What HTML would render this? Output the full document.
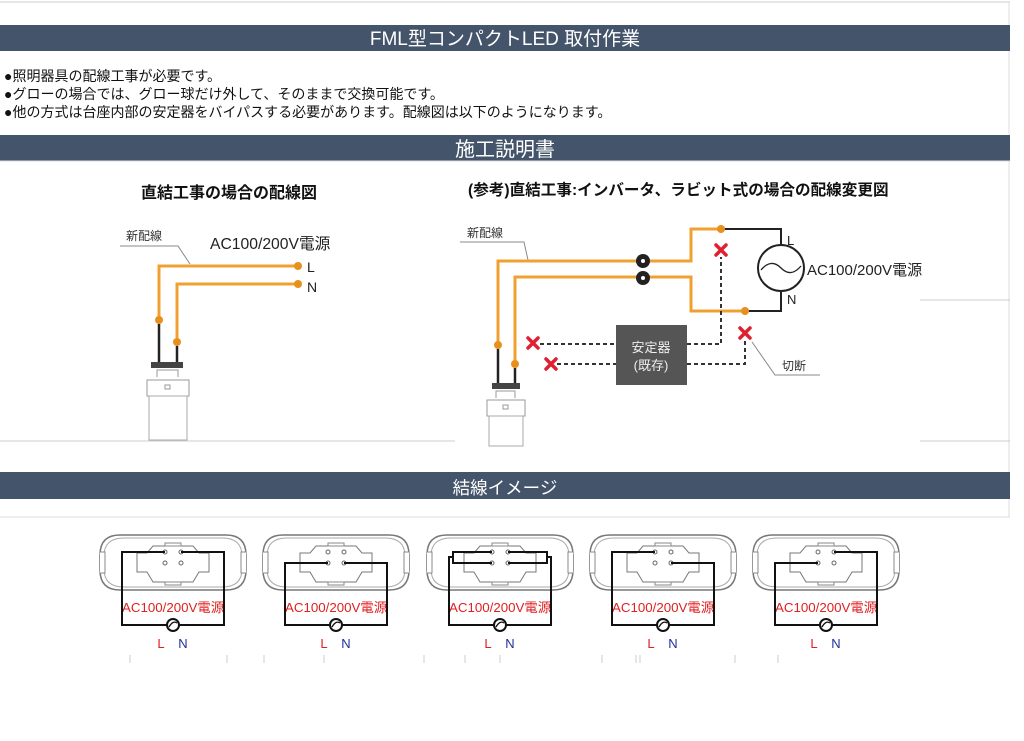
<!DOCTYPE html>
<html><head><meta charset="utf-8">
<style>
body{margin:0;background:#fff;}
svg{display:block;font-family:"Liberation Sans","Noto Sans CJK JP",sans-serif;}
</style></head><body>
<svg width="1024" height="741" viewBox="0 0 1024 741" xmlns="http://www.w3.org/2000/svg">
<defs>
<g id="fx">
  <path d="M-53,535 L53,535 Q73,535 73,555 L73,570 Q73,590 53,590 L-53,590 Q-73,590 -73,570 L-73,555 Q-73,535 -53,535 Z" fill="#fff" stroke="#777" stroke-width="1.5"/>
  <path d="M-49,538 L49,538 Q69,538 69,556 L69,569 Q69,587 49,587 L-49,587 Q-69,587 -69,569 L-69,556 Q-69,538 -49,538 Z" fill="none" stroke="#aaa" stroke-width="1"/>
  <path d="M-73,552 L-68,552 L-68,573 L-73,573 M73,552 L68,552 L68,573 L73,573" fill="#fff" stroke="#888"/>
  <path d="M-20,546 L20,546 L26,553 L36,553 L36,572 L26,572 L20,582 L-20,582 L-26,572 L-36,572 L-36,553 L-26,553 Z" fill="#fff" stroke="#777"/>
  <rect x="-8" y="543" width="16" height="3" fill="#fff" stroke="#888"/>
  <rect x="-8" y="582" width="16" height="3" fill="#fff" stroke="#888"/>
  <circle cx="-8" cy="552" r="2" fill="#fff" stroke="#666"/><circle cx="8" cy="552" r="2" fill="#fff" stroke="#666"/>
  <circle cx="-8" cy="563" r="2" fill="#fff" stroke="#666"/><circle cx="8" cy="563" r="2" fill="#fff" stroke="#666"/>
  <text x="0" y="612" font-size="13.3" fill="#e02020" text-anchor="middle">AC100/200V電源</text>
  <circle cx="0" cy="625" r="6" fill="#fff" stroke="#111" stroke-width="2"/>
  <path d="M-4,627 Q0,620 4,623" fill="none" stroke="#111" stroke-width="1.3"/>
  <text x="-12" y="648" font-size="13" fill="#e02020" text-anchor="middle">L</text>
  <text x="10" y="648" font-size="13" fill="#2030a0" text-anchor="middle">N</text>
</g>
</defs>
<rect x="0" y="0" width="1024" height="741" fill="#fff"/>
<line x1="0" y1="2" x2="1010" y2="2" stroke="#ccc"/>
<line x1="1009" y1="2" x2="1009" y2="517" stroke="#ddd"/>
<line x1="0" y1="517" x2="1010" y2="517" stroke="#ddd"/>
<rect x="0" y="25" width="1010" height="26" fill="#44546a"/>
<text x="505" y="45" font-size="19" fill="#fff" text-anchor="middle">FML型コンパクトLED 取付作業</text>
<text x="4" y="81" font-size="14" fill="#111">●照明器具の配線工事が必要です。</text>
<text x="4" y="99" font-size="14" fill="#111">●グローの場合では、グロー球だけ外して、そのままで交換可能です。</text>
<text x="4" y="117" font-size="14" fill="#111">●他の方式は台座内部の安定器をバイパスする必要があります。配線図は以下のようになります。</text>
<rect x="0" y="135" width="1010" height="26" fill="#44546a"/>
<text x="505" y="156" font-size="20" fill="#fff" text-anchor="middle">施工説明書</text>
<line x1="0" y1="161" x2="1010" y2="161" stroke="#ddd"/>

<!-- left diagram -->
<text x="229" y="198" font-size="16" font-weight="bold" fill="#111" text-anchor="middle">直結工事の場合の配線図</text>
<text x="126" y="240" font-size="12" fill="#333">新配線</text>
<path d="M120,246 L178,246 L190,264" fill="none" stroke="#888"/>
<text x="210" y="249" font-size="15.7" fill="#222">AC100/200V電源</text>
<path d="M159,320 L159,266 L298,266 M177,342 L177,284 L298,284" fill="none" stroke="#f0a030" stroke-width="3"/>
<g fill="#e8901c"><circle cx="159" cy="320" r="4"/><circle cx="177" cy="342" r="4"/><circle cx="298" cy="266" r="4"/><circle cx="298" cy="284" r="4"/></g>
<text x="307" y="272" font-size="14" fill="#222">L</text>
<text x="307" y="292" font-size="14" fill="#222">N</text>
<path d="M159,324 L159,362 M177,346 L177,362" stroke="#222" stroke-width="2.5"/>
<rect x="151" y="362" width="32" height="6" fill="#444"/>
<path d="M157,377 L157,370 L178,370 L178,377" fill="none" stroke="#999"/>
<rect x="147" y="380" width="42" height="16" fill="#fff" stroke="#999"/>
<rect x="165" y="385" width="5" height="4" fill="#fff" stroke="#999"/>
<rect x="149" y="396" width="38" height="44" fill="#fff" stroke="#aaa"/>
<line x1="0" y1="441" x2="455" y2="441" stroke="#ccc"/>

<!-- right diagram -->
<text x="468" y="195" font-size="15.6" font-weight="bold" fill="#111">(参考)直結工事:インバータ、ラビット式の場合の配線変更図</text>
<text x="467" y="237" font-size="12" fill="#333">新配線</text>
<path d="M460,242 L524,242 L528,260" fill="none" stroke="#888"/>
<path d="M498,345 L498,261 L691,261 L691,229 L721,229 M515,364 L515,277 L691,277 L691,311 L745,311" fill="none" stroke="#f0a030" stroke-width="3"/>
<path d="M721,229 L781,229 L781,244 M745,311 L781,311 L781,292" fill="none" stroke="#222" stroke-width="2"/>
<g fill="#e8901c"><circle cx="498" cy="345" r="4"/><circle cx="515" cy="364" r="4"/><circle cx="721" cy="229" r="4"/><circle cx="745" cy="311" r="4"/></g>
<circle cx="643" cy="261" r="7" fill="#222"/><circle cx="643" cy="261" r="2" fill="#fff"/>
<circle cx="643" cy="278" r="7" fill="#222"/><circle cx="643" cy="278" r="2" fill="#fff"/>
<circle cx="781" cy="268" r="23" fill="#fff" stroke="#222" stroke-width="2"/>
<path d="M761,270 Q771,258 781,268 Q791,278 801,266" fill="none" stroke="#222" stroke-width="1.3"/>
<text x="787" y="245" font-size="13" fill="#222">L</text>
<text x="787" y="304" font-size="13" fill="#222">N</text>
<text x="807" y="275" font-size="15" fill="#222">AC100/200V電源</text>
<path d="M498,349 L498,383 M515,368 L515,383" stroke="#222" stroke-width="2.5"/>
<rect x="492" y="383" width="28" height="6" fill="#444"/>
<path d="M496,398 L496,391 L515,391 L515,398" fill="none" stroke="#999"/>
<rect x="487" y="400" width="38" height="16" fill="#fff" stroke="#999"/>
<rect x="503" y="405" width="5" height="4" fill="#fff" stroke="#999"/>
<rect x="489" y="416" width="34" height="30" fill="#fff" stroke="#aaa"/>
<rect x="616" y="325" width="71" height="60" fill="#555"/>
<text x="651" y="352" font-size="13" fill="#eee" text-anchor="middle">安定器</text>
<text x="651" y="370" font-size="13" fill="#eee" text-anchor="middle">(既存)</text>
<path d="M540,344 L616,344 M687,344 L721,344 L721,257 M557,364 L616,364 M687,364 L745,364 L745,340" fill="none" stroke="#333" stroke-width="2" stroke-dasharray="4,3"/>
<g stroke="#e02030" stroke-width="3.5" stroke-linecap="round">
<path d="M528,338 L538,348 M538,338 L528,348"/>
<path d="M546,359 L556,369 M556,359 L546,369"/>
<path d="M716,245 L726,255 M726,245 L716,255"/>
<path d="M740,328 L750,338 M750,328 L740,338"/>
</g>
<path d="M752,342 L775,375 L820,375" fill="none" stroke="#888"/>
<text x="782" y="370" font-size="12" fill="#333">切断</text>
<line x1="920" y1="300" x2="1010" y2="300" stroke="#ccc"/>
<line x1="920" y1="441" x2="1010" y2="441" stroke="#ccc"/>

<rect x="0" y="472" width="1010" height="27" fill="#44546a"/>
<text x="505" y="494" font-size="17.5" fill="#fff" text-anchor="middle">結線イメージ</text>

<!-- fixtures -->
<g transform="translate(173,0)"><use href="#fx"/><path d="M-8,552 L-51,552 L-51,625 L-6,625 M6,625 L51,625 L51,552 L8,552" fill="none" stroke="#111" stroke-width="2"/></g>
<g transform="translate(336,0)"><use href="#fx"/><path d="M-8,563 L-51,563 L-51,625 L-6,625 M6,625 L51,625 L51,563 L8,563" fill="none" stroke="#111" stroke-width="2"/></g>
<g transform="translate(500,0)"><use href="#fx"/><path d="M-8,552 L-47,552 L-47,563 L-8,563 M8,552 L47,552 L47,563 L8,563 M-47,557 L-51,557 L-51,625 L-6,625 M6,625 L51,625 L51,557 L47,557" fill="none" stroke="#111" stroke-width="2"/></g>
<g transform="translate(663,0)"><use href="#fx"/><path d="M-8,552 L-51,552 L-51,625 L-6,625 M6,625 L51,625 L51,563 L8,563" fill="none" stroke="#111" stroke-width="2"/></g>
<g transform="translate(826,0)"><use href="#fx"/><path d="M-8,563 L-51,563 L-51,625 L-6,625 M6,625 L51,625 L51,552 L8,552" fill="none" stroke="#111" stroke-width="2"/></g>
<g stroke="#ccc"><path d="M130,655 v8 M227,655 v8 M264,655 v8 M324,655 v8 M424,655 v8 M465,655 v8 M500,655 v8 M602,655 v8 M636,655 v8 M640,655 v8 M735,655 v8 M778,655 v8"/></g>
</svg>
</body></html>
